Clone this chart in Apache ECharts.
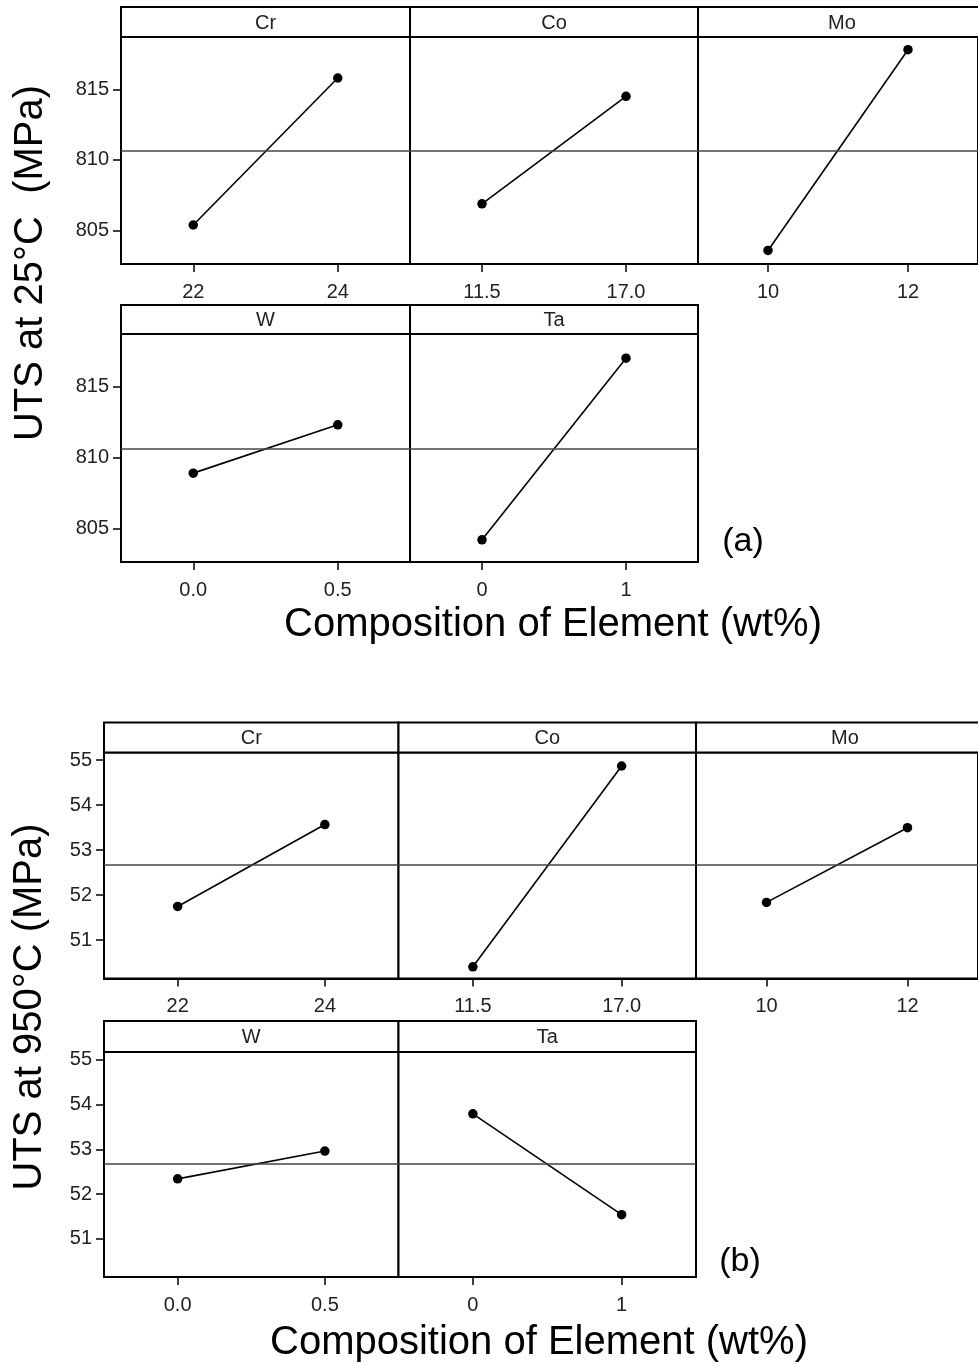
<!DOCTYPE html>
<html>
<head>
<meta charset="utf-8">
<title>UTS main effects</title>
<script src="https://cdn.jsdelivr.net/npm/echarts@6/dist/echarts.min.js"></script>
<style>
html, body { margin: 0; padding: 0; background: #fff; }
#main { width: 978px; height: 1365px; }
</style>
</head>
<body>
<div id="main"></div>
<script>
// factors and their two levels (wt%)
const factors = ['Cr', 'Co', 'Mo', 'W', 'Ta'];
const levelLabels = [['22', '24'], ['11.5', '17.0'], ['10', '12'], ['0.0', '0.5'], ['0', '1']];

// mean UTS at each level
const uts25 = [[805.4, 815.8], [806.9, 814.5], [803.6, 817.8], [808.9, 812.3], [804.2, 817.0]];
const uts950 = [[51.75, 53.57], [50.41, 54.87], [51.84, 53.50], [52.34, 52.96], [53.79, 51.54]];

// grand mean (reference line)
const mean25 = 810.65;
const mean950 = 52.67;

// y tick labels / axis ranges
const ticks25 = [805, 810, 815];
const ticks950 = [51, 52, 53, 54, 55];
const range25 = [802.64, 818.7];
const range950 = [50.15, 55.17];

// panel layout (px): column edges, and per row [strip top, plot top, plot bottom]
const layoutA = { cols: [121, 410, 698, 986], rows: [[7, 37, 264], [305, 334, 562]] };
const layoutB = { cols: [104, 398.5, 696, 994], rows: [[722.5, 752.5, 978.5], [1021, 1052, 1277]] };

const FONT = '"Liberation Sans", Arial, sans-serif';

let grids = [], xAxes = [], yAxes = [], series = [], graphics = [];

function addPart(layout, values, mean, ticks, range) {
  factors.forEach((name, i) => {
    let row = i < 3 ? 0 : 1;
    let col = i % 3;
    let x0 = layout.cols[col], x1 = layout.cols[col + 1];
    let r = layout.rows[row];
    let idx = grids.length;

    grids.push({
      left: x0, top: r[1], width: x1 - x0, height: r[2] - r[1],
      show: true, borderColor: '#000', borderWidth: 2, backgroundColor: '#fff'
    });
    xAxes.push({
      type: 'category', gridIndex: idx, data: levelLabels[i], boundaryGap: true,
      axisLine: { show: true, lineStyle: { color: '#000', width: 2 } },
      axisTick: { show: true, alignWithLabel: true, length: 8, lineStyle: { color: '#000', width: 1.5 } },
      axisLabel: { margin: 18, fontSize: 20, color: '#222', fontFamily: FONT },
      splitLine: { show: false }
    });
    yAxes.push({
      type: 'value', gridIndex: idx, min: range[0], max: range[1], show: col === 0,
      axisLine: { show: true, lineStyle: { color: '#000', width: 2 } },
      axisTick: { show: true, customValues: ticks, length: 8, lineStyle: { color: '#000', width: 1.5 } },
      axisLabel: { customValues: ticks, margin: 12, fontSize: 20, color: '#222', fontFamily: FONT },
      splitLine: { show: false }
    });
    series.push({
      type: 'line', xAxisIndex: idx, yAxisIndex: idx, data: values[i],
      symbol: 'circle', symbolSize: 9.5,
      itemStyle: { color: '#000' },
      lineStyle: { color: '#000', width: 1.6 },
      markLine: {
        silent: true, symbol: 'none', label: { show: false },
        lineStyle: { color: '#444', width: 1.6, type: 'solid' },
        data: [{ yAxis: mean }]
      }
    });
    // strip with factor name
    graphics.push({
      type: 'rect', shape: { x: x0, y: r[0], width: x1 - x0, height: r[1] - r[0] },
      style: { fill: '#fff', stroke: '#000', lineWidth: 2 }
    });
    graphics.push({
      type: 'text', x: (x0 + x1) / 2, y: (r[0] + r[1]) / 2 + 1,
      style: { text: name, font: '20px ' + FONT, fill: '#222', textAlign: 'center', textVerticalAlign: 'middle' }
    });
  });
}

addPart(layoutA, uts25, mean25, ticks25, range25);
addPart(layoutB, uts950, mean950, ticks950, range950);

function bigText(txt, x, y, size, rot) {
  return {
    type: 'text', x: x, y: y, rotation: rot || 0,
    style: { text: txt, font: size + 'px ' + FONT, fill: '#000', textAlign: 'center', textVerticalAlign: 'middle' }
  };
}
graphics.push(bigText('UTS at 25\u00B0C  (MPa)', 31, 263, 40, Math.PI / 2));
graphics.push(bigText('Composition of Element (wt%)', 553, 625, 40));
graphics.push(bigText('(a)', 743, 542, 34));
graphics.push(bigText('UTS at 950\u00B0C (MPa)', 30, 1007, 40, Math.PI / 2));
graphics.push(bigText('Composition of Element (wt%)', 539, 1343, 40));
graphics.push(bigText('(b)', 740, 1262, 34));

let chart = echarts.init(document.getElementById('main'));
chart.setOption({
  animation: false,
  backgroundColor: '#fff',
  grid: grids,
  xAxis: xAxes,
  yAxis: yAxes,
  series: series,
  graphic: graphics
});
</script>
</body>
</html>
